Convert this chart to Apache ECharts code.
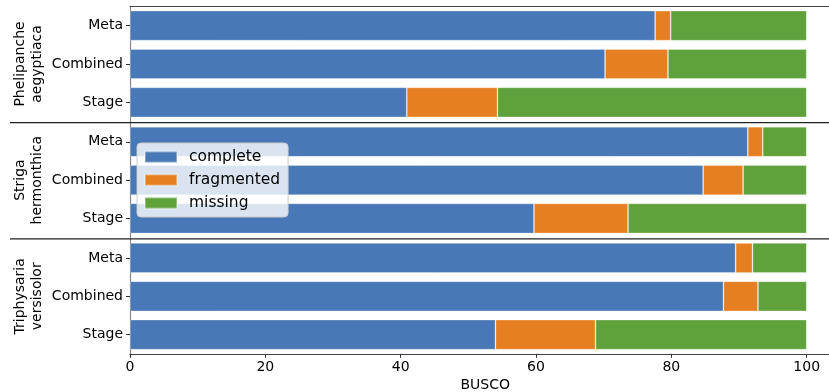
<!DOCTYPE html>
<html>
<head>
<meta charset="utf-8">
<script src="https://cdn.jsdelivr.net/npm/echarts@6/dist/echarts.min.js"></script>
<style>
  html, body { margin: 0; padding: 0; background: #fff; }
  #chart { width: 829px; height: 392px; }
</style>
</head>
<body>
<div id="chart"></div>
<script>
// BUSCO completeness (%) per assembly strategy, one panel per species
const species = ['Phelipanche\naegyptiaca', 'Striga\nhermonthica', 'Triphysaria\nversisolor'];
const methods = ['Meta', 'Combined', 'Stage'];
const statusNames = ['complete', 'fragmented', 'missing'];
const complete   = [[77.6, 70.2, 40.9], [91.3, 84.7, 59.7], [89.5, 87.7, 54.0]];
const fragmented = [[2.3, 9.3, 13.4],   [2.2, 5.9, 13.9],   [2.5, 5.1, 14.8]];
const missing    = [[20.1, 20.5, 45.7], [6.5, 9.4, 26.4],   [8.0, 7.2, 31.2]];
const xTicks = [0, 20, 40, 60, 80, 100];

const statusValues = [complete, fragmented, missing];
const colors = ['#4878b5', '#e57f21', '#5fa13b'];
const FONT = 'DejaVu Sans';

// panel layout
const plotLeft = 130;
const xMax = 105;
const pxPerUnit = 6.767;
const panelTops = [6.5, 122.6, 238.8];
const panelHeight = 115;

const chart = echarts.init(document.getElementById('chart'), null, { renderer: 'canvas' });

const grids = panelTops.map(t => ({
  left: plotLeft, top: t, width: xMax * pxPerUnit, height: panelHeight,
  containLabel: false, outerBoundsMode: 'none'
}));

const xAxes = panelTops.map((t, i) => ({
  type: 'value', gridIndex: i, min: 0, max: xMax, interval: 20,
  position: i === 0 ? 'top' : 'bottom',
  splitLine: { show: false },
  axisLine: { show: i !== 1, lineStyle: { color: '#444', width: 1.2 } },
  axisTick: { show: i === 2, length: 4, lineStyle: { color: '#333' }, customValues: xTicks },
  axisLabel: { show: i === 2, fontFamily: FONT, fontSize: 14, color: '#000', margin: 7,
               customValues: xTicks },
  name: i === 2 ? 'BUSCO' : '',
  nameLocation: 'middle', nameGap: 25,
  nameTextStyle: { fontFamily: FONT, fontSize: 14, color: '#000' }
}));

const yAxes = species.map((sp, i) => ({
  type: 'category', gridIndex: i, data: methods, inverse: true,
  axisLine: { show: true, lineStyle: { color: '#888', width: 1.2 } },
  axisTick: { show: true, length: 4, alignWithLabel: true, lineStyle: { color: '#333' } },
  axisLabel: { fontFamily: FONT, fontSize: 14, color: '#000', margin: 7, padding: [7, 0, 0, 0] },
  name: sp, nameLocation: 'middle', nameRotate: 90, nameGap: 84, nameMoveOverlap: false,
  nameTextStyle: { fontFamily: FONT, fontSize: 14, color: '#000', lineHeight: 17, align: 'center' }
}));

const series = [];
species.forEach((sp, i) => {
  statusNames.forEach((name, k) => {
    series.push({
      type: 'bar', name, xAxisIndex: i, yAxisIndex: i, stack: 'panel' + i,
      barWidth: 30,
      data: statusValues[k][i],
      itemStyle: { color: colors[k], borderColor: 'rgba(255,255,255,0.35)', borderWidth: 0.8 },
      emphasis: { disabled: true }
    });
  });
});

// horizontal separators between species panels, extending into the label area
const separators = panelTops.slice(1).map(t => ({
  type: 'line', z: 10,
  shape: { x1: 10, y1: t, x2: 829, y2: t },
  style: { stroke: '#222', lineWidth: 1.3 }
}));

chart.setOption({
  animation: false,
  backgroundColor: '#fff',
  textStyle: { fontFamily: FONT },
  grid: grids,
  xAxis: xAxes,
  yAxis: yAxes,
  series,
  legend: {
    data: statusNames,
    orient: 'vertical', left: 137, top: 143,
    icon: 'rect', itemWidth: 32, itemHeight: 11, itemGap: 7,
    padding: [6, 8, 6, 7],
    backgroundColor: 'rgba(255,255,255,0.8)',
    borderColor: '#ccc', borderWidth: 1, borderRadius: 4,
    textStyle: { fontFamily: FONT, fontSize: 15.5, color: '#000', lineHeight: 16, padding: [0, 0, 0, 7] }
  },
  graphic: separators
});
</script>
</body>
</html>
